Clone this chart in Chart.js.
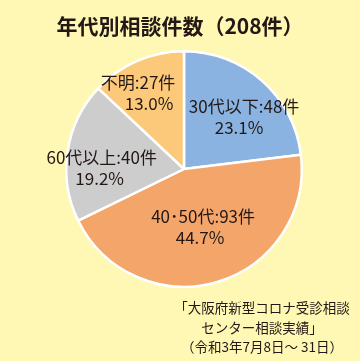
<!DOCTYPE html>
<html><head><meta charset="utf-8">
<script src="https://cdn.jsdelivr.net/npm/chart.js@4/dist/chart.umd.min.js"></script>
<style>
html,body{margin:0;padding:0;}
body{width:360px;height:361px;background:#FFF8B4;position:relative;overflow:hidden;font-family:"Noto Sans CJK JP","Noto Sans",sans-serif;}
#wrap{position:absolute;left:0;top:0;width:360px;height:361px;}
#title{position:absolute;left:0;top:10px;width:360px;text-align:center;font-size:21px;font-weight:bold;color:#231815;}
#src{position:absolute;left:170px;top:298px;width:184px;text-align:center;font-size:13.5px;line-height:19.5px;color:#231815;}
</style></head>
<body>
<div id="wrap"><canvas id="c" width="360" height="361"></canvas></div>
<div id="title">年代別相談件数（208件）</div>
<div id="src">「大阪府新型コロナ受診相談<br>センター相談実績」<br>（令和3年7月8日～ 31日）</div>
<script>
const categories = ["30代以下", "40･50代", "60代以上", "不明"];
const counts = [48, 93, 40, 27];
const percents = ["23.1%", "44.7%", "19.2%", "13.0%"];
const colors = ["#8AB3E2", "#F4A66A", "#CDCDCD", "#FBC979"];

const labelPlugin = {
  id: 'sliceLabels',
  afterDatasetsDraw(chart, args, opts) {
    const ctx = chart.ctx;
    const meta = chart.getDatasetMeta(0);
    meta.data.forEach((arc, i) => {
      const p = arc.getProps(['x','y','startAngle','endAngle','outerRadius'], true);
      const mid = (p.startAngle + p.endAngle) / 2;
      const r = p.outerRadius * opts.fractions[i];
      const x = p.x + Math.cos(mid) * r + opts.nudge[i][0];
      const y = p.y + Math.sin(mid) * r + opts.nudge[i][1];
      ctx.save();
      ctx.fillStyle = '#231815';
      ctx.font = '17px "Noto Sans CJK JP", sans-serif';
      ctx.textAlign = 'center';
      ctx.textBaseline = 'middle';
      ctx.fillText(categories[i] + ':' + counts[i] + '件', x, y - 10.5);
      ctx.fillText(percents[i], x + opts.line2dx[i], y + 10.5);
      ctx.restore();
    });
  }
};

new Chart(document.getElementById('c'), {
  type: 'pie',
  data: {
    labels: categories,
    datasets: [{
      data: counts,
      backgroundColor: colors,
      borderColor: '#FFFFFF',
      borderWidth: 2.5
    }]
  },
  options: {
    responsive: false,
    animation: false,
    layout: { padding: { left: 65, right: 57, top: 50, bottom: 73 } },
    plugins: {
      legend: { display: false },
      tooltip: { enabled: false },
      sliceLabels: {
        fractions: [0.667, 0.513, 0.69, 0.748],
        nudge: [[8, 7], [2, 0], [-2, 11], [-11, 5]],
        line2dx: [-5, -3, -2, 11]
      }
    }
  },
  plugins: [labelPlugin]
});
</script>
</body></html>
